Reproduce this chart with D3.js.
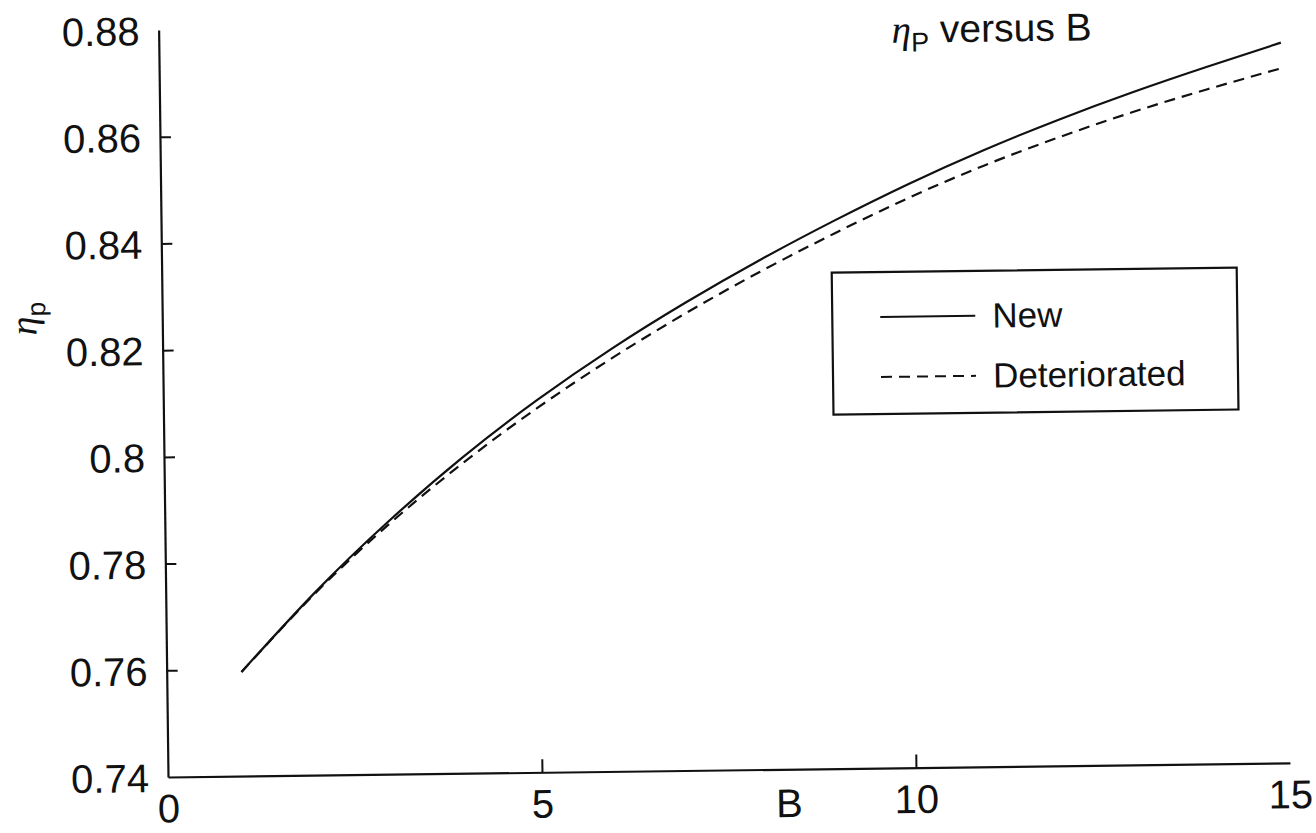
<!DOCTYPE html>
<html>
  <head>
    <meta charset="utf-8">
    <title>eta_P versus B</title>
    <script src="https://d3js.org/d3.v7.min.js"></script>
    <style>
      body { margin: 0; background: #fff; }
      text { fill: #111; }
    </style>
  </head>
  <body>
    <div id="chart"></div>

    <script type="text/javascript">
      // values
      var bValues = [1, 2, 3, 4, 5, 6, 7, 8, 9, 10, 11, 12, 13, 14, 15];
      var etaNew = [0.7595, 0.7743, 0.7875, 0.7993, 0.8098, 0.8192, 0.8277, 0.8355,
                    0.8427, 0.8494, 0.8555, 0.8610, 0.8660, 0.8706, 0.8750];
      var etaDeteriorated = [0.7595, 0.7741, 0.7869, 0.7982, 0.8083, 0.8174, 0.8257, 0.8333,
                             0.8403, 0.8468, 0.8526, 0.8577, 0.8623, 0.8664, 0.8702];

      var xTicks = [0, 5, 10, 15];
      var yTicks = [0.74, 0.76, 0.78, 0.8, 0.82, 0.84, 0.86, 0.88];
      var yTickLabels = ["0.74", "0.76", "0.78", "0.8", "0.82", "0.84", "0.86", "0.88"];
      var seriesNames = ["New", "Deteriorated"];

      var W = 1316, H = 833;
      var margin = {top: 30, right: 26, bottom: 56, left: 168};
      var width = W - margin.left - margin.right,
          height = H - margin.top - margin.bottom;

      var svg = d3.select('#chart').append('svg')
          .attr('width', W)
          .attr('height', H);

      // the scan is slightly tilted, so the whole plot is turned a bit
      var g = svg.append('g')
          .attr('transform', 'rotate(-0.72,' + margin.left + ',' + (margin.top + height) + ') translate(' + margin.left + ',' + margin.top + ')');

      var x = d3.scaleLinear().domain([0, 15]).range([0, width]);
      var y = d3.scaleLinear().domain([0.74, 0.88]).range([height, 0]);

      var font = '"Liberation Sans", Arial, Helvetica, sans-serif';

      // x axis, ticks pointing up into the plot
      var xAxis = g.append('g')
          .attr('transform', 'translate(0,' + height + ')')
          .call(d3.axisBottom(x).tickValues(xTicks).tickFormat(d3.format('d'))
                .tickSize(-13).tickSizeOuter(0).tickPadding(17));

      // y axis, ticks pointing right
      var yAxis = g.append('g')
          .call(d3.axisLeft(y).tickValues(yTicks)
                .tickFormat(function(d, i) { return yTickLabels[i]; })
                .tickSize(-11).tickSizeOuter(0).tickPadding(19));

      [xAxis, yAxis].forEach(function(a) {
        a.attr('font-family', font).attr('font-size', 40);
        a.select('.domain').attr('stroke', '#111').attr('stroke-width', 2.2);
        a.selectAll('.tick line').attr('stroke', '#111').attr('stroke-width', 2);
        a.selectAll('.tick text').attr('fill', '#111');
        // no tick marks at the ends of the axes
        a.selectAll('.tick line').filter(function(d, i, n) { return i === 0 || i === n.length - 1; }).remove();
      });
      yAxis.selectAll('.tick text').attr('dy', '0.36em');

      // curves
      var line = d3.line()
          .x(function(d) { return x(d[0]); })
          .y(function(d) { return y(d[1]); })
          .curve(d3.curveNatural);

      g.append('path')
          .datum(bValues.map(function(b, i) { return [b, etaNew[i]]; }))
          .attr('fill', 'none')
          .attr('stroke', '#111')
          .attr('stroke-width', 2.2)
          .attr('d', line);

      g.append('path')
          .datum(bValues.map(function(b, i) { return [b, etaDeteriorated[i]]; }))
          .attr('fill', 'none')
          .attr('stroke', '#111')
          .attr('stroke-width', 2.2)
          .attr('stroke-dasharray', '11,7')
          .attr('d', line);

      // axis labels
      g.append('text')
          .attr('x', 621)
          .attr('y', height + 48)
          .attr('text-anchor', 'middle')
          .attr('font-family', font)
          .attr('font-size', 40)
          .text('B');

      var yl = g.append('text')
          .attr('transform', 'translate(' + (-126) + ',' + (y(0.8) - 140) + ') rotate(-90)')
          .attr('text-anchor', 'middle')
          .attr('font-size', 38);
      yl.append('tspan').attr('font-family', '"Liberation Serif", "Times New Roman", serif')
          .attr('font-style', 'italic').text('η');
      yl.append('tspan').attr('font-family', font).attr('font-size', 26).attr('dy', 9).text('p');

      // title
      var title = g.append('text')
          .attr('x', 733)
          .attr('y', 22)
          .attr('font-size', 39);
      title.append('tspan').attr('font-family', '"Liberation Serif", "Times New Roman", serif')
          .attr('font-style', 'italic').text('η');
      title.append('tspan').attr('font-family', font).attr('font-size', 27).attr('dy', 9).text('P');
      title.append('tspan').attr('font-family', font).attr('dy', -9).text(' versus B');

      // legend
      var legend = g.append('g').attr('transform', 'translate(670,251)');
      legend.append('rect')
          .attr('width', 405)
          .attr('height', 142)
          .attr('fill', '#fff')
          .attr('stroke', '#111')
          .attr('stroke-width', 2.2);

      var rows = legend.selectAll('.row')
          .data(seriesNames)
          .enter().append('g')
          .attr('transform', function(d, i) { return 'translate(48,' + (45 + i * 60) + ')'; });

      rows.append('line')
          .attr('x1', 0).attr('x2', 95)
          .attr('stroke', '#111')
          .attr('stroke-width', 2)
          .attr('stroke-dasharray', function(d, i) { return i === 0 ? null : '11,7'; });

      rows.append('text')
          .attr('x', 112)
          .attr('y', 12)
          .attr('font-family', font)
          .attr('font-size', 35)
          .text(function(d) { return d; });
    </script>
  </body>
</html>
